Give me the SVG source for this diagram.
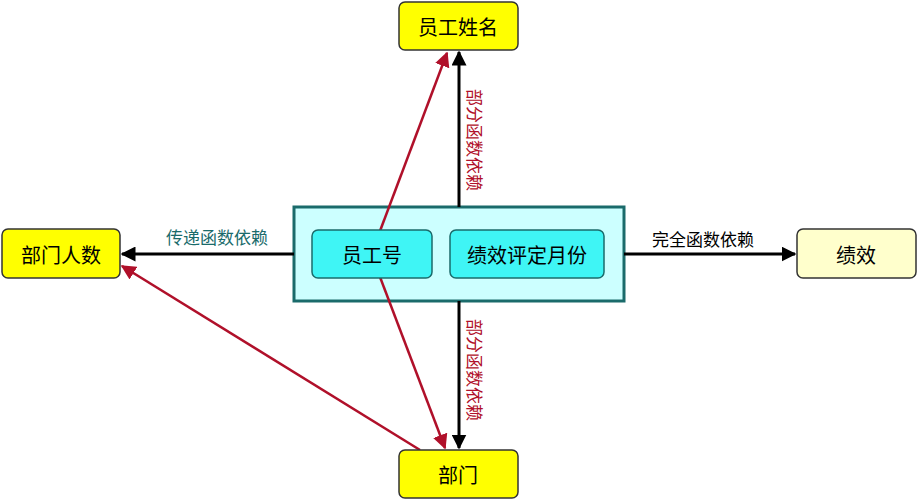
<svg xmlns="http://www.w3.org/2000/svg" width="918" height="500" viewBox="0 0 918 500">
<style>
text{font-family:"Noto Sans CJK SC","Noto Sans",sans-serif;font-size:20px;text-anchor:middle;dominant-baseline:central}
.y{fill:#ffff00;stroke:#333;stroke-width:1.5}
.c{fill:#3ff5f5;stroke:#1a6b6b;stroke-width:1.5}
.k{stroke:#000;stroke-width:3;fill:none}
.r{stroke:#b0102a;stroke-width:2.5;fill:none}
.lb{font-size:17px}
</style>
<defs>
<marker id="ak" viewBox="0 0 10 10" refX="9" refY="5" markerWidth="5" markerHeight="5" orient="auto" markerUnits="strokeWidth"><path d="M0,0L10,5L0,10z" fill="#000"/></marker>
<marker id="ar" viewBox="0 0 10 10" refX="9" refY="5" markerWidth="6" markerHeight="6" orient="auto" markerUnits="strokeWidth"><path d="M0,0L10,5L0,10z" fill="#b0102a"/></marker>
</defs>
<g id="key">
<rect x="294" y="207" width="330" height="94" fill="#ccffff" stroke="#1a6b6b" stroke-width="3"/>
</g>
<g id="connectors">
<line class="k" x1="459" y1="207" x2="459" y2="52" marker-end="url(#ak)"/>
<line class="k" x1="459" y1="301" x2="459" y2="448" marker-end="url(#ak)"/>
<line class="k" x1="294" y1="254" x2="122" y2="254" marker-end="url(#ak)"/>
<line class="k" x1="624" y1="254" x2="795" y2="254" marker-end="url(#ak)"/>
<line class="r" x1="380" y1="231" x2="447" y2="53" marker-end="url(#ar)"/>
<line class="r" x1="380" y1="277" x2="445" y2="448" marker-end="url(#ar)"/>
<line class="r" x1="420" y1="450" x2="122" y2="266" marker-end="url(#ar)"/>
<text class="lb" x="217" y="236" fill="#1a6b6b">传递函数依赖</text>
<text class="lb" x="703" y="238" fill="#000">完全函数依赖</text>
<text class="lb" fill="#b0102a" transform="translate(475,140) rotate(90)">部分函数依赖</text>
<text class="lb" fill="#b0102a" transform="translate(475,370) rotate(90)">部分函数依赖</text>
</g>
<g id="n1"><rect class="c" x="312" y="230" width="120" height="48" rx="6"/><text x="372" y="254">员工号</text></g>
<g id="n2"><rect class="c" x="450" y="230" width="154" height="48" rx="6"/><text x="527" y="254">绩效评定月份</text></g>
<g id="n3"><rect class="y" x="399" y="2" width="119" height="48" rx="6"/><text x="458" y="26">员工姓名</text></g>
<g id="n4"><rect class="y" x="399" y="450" width="119" height="48" rx="6"/><text x="458" y="474">部门</text></g>
<g id="n5"><rect class="y" x="2" y="229" width="118" height="49" rx="6"/><text x="61" y="254">部门人数</text></g>
<g id="n6"><rect x="797" y="229" width="119" height="49" rx="6" fill="#ffffcc" stroke="#333" stroke-width="1.5"/><text x="856" y="254">绩效</text></g>
</svg>
